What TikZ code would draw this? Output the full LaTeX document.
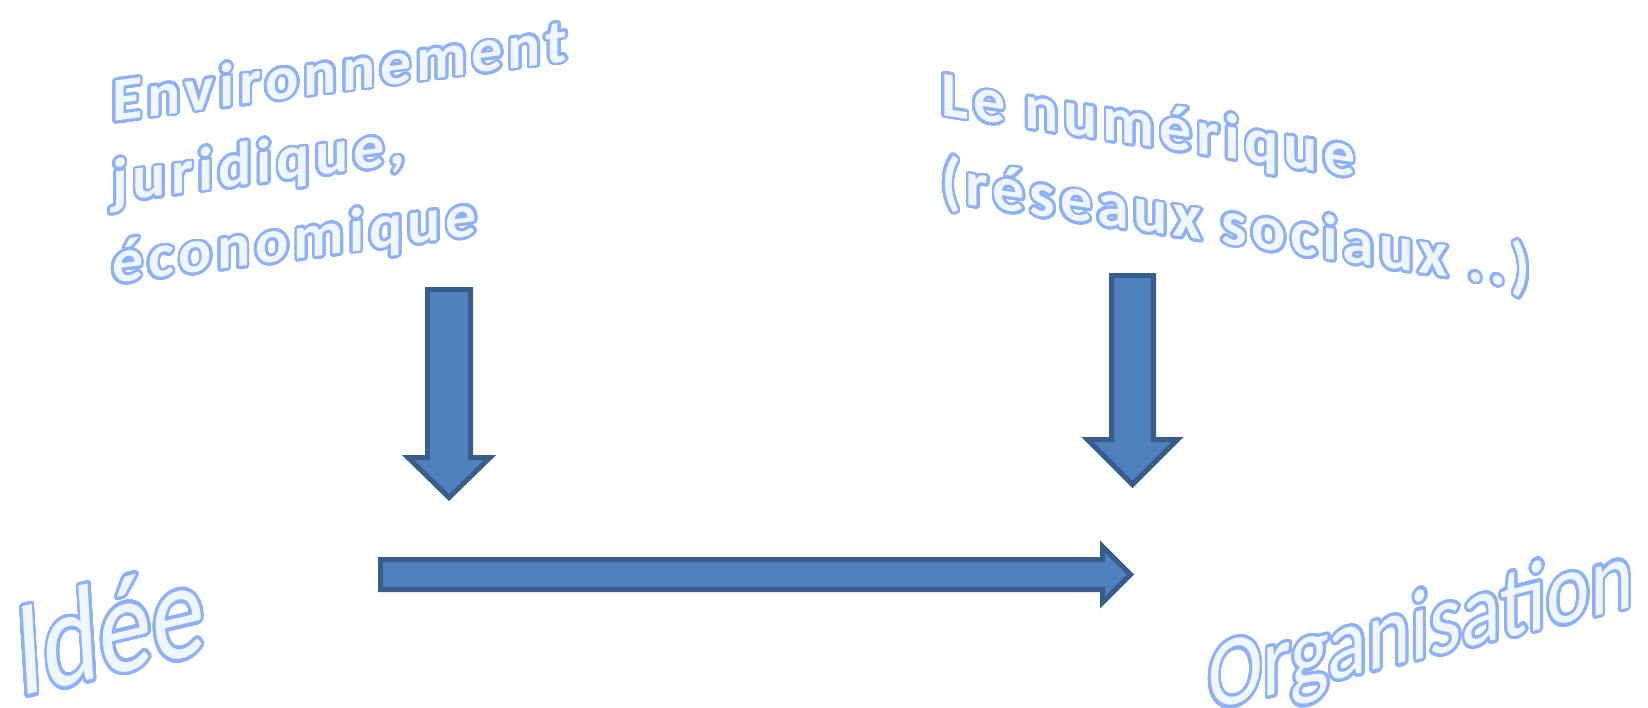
\documentclass[tikz,border=0pt]{standalone}
\usepackage{fontspec}
\setmainfont{Carlito}
\usepackage{graphicx}
\usepackage{contour}
\usetikzlibrary{positioning}
\definecolor{arrowfill}{RGB}{79,129,189}
\definecolor{arrowline}{RGB}{56,93,138}
\definecolor{wordfill}{RGB}{240,246,255}
\definecolor{wordline}{RGB}{141,176,246}
\contourlength{2.7pt}
\contournumber{36}
\newcommand{\wa}[1]{\contour{wordline}{#1}}
\tikzstyle{blockarrow}=[draw=arrowline, fill=arrowfill, line width=5pt, line join=miter]
\tikzstyle{wordart}=[text=wordfill, inner sep=0pt, transform shape, align=left]
\tikzstyle{topfont}=[font=\bfseries\fontsize{62}{81}\selectfont\addfontfeatures{LetterSpace=8}]

\begin{document}
\begin{tikzpicture}[x=1pt,y=-1pt]
  \useasboundingbox (0,0) rectangle (1648,707);
  % textes du haut
  \node[wordart, topfont, yslant=0.133, anchor=north west] (env) at (112,78)
    {\wa{Environnement}\\\wa{juridique,}\\\wa{économique}};
  \node[wordart, topfont, yslant=-0.15, anchor=north west,
    font=\bfseries\fontsize{64}{86}\selectfont\addfontfeatures{LetterSpace=7.5}] (num) at (941,70)
    {\wa{Le numérique}\\\wa{(réseaux sociaux ..)}};
  % textes du bas
  \node[wordart, yslant=0.24, xslant=-0.06, anchor=base west,
    font=\fontsize{106}{106}\selectfont] (idee) at (19,697)
    {\scalebox{1}[1.31]{\wa{Idée}}};
  \node[wordart, yslant=0.246, anchor=base west,
    font=\fontsize{82.5}{82.5}\selectfont] (orga) at (1208,711)
    {\scalebox{1}[1.22]{\wa{Organisation}}};
  % fleches
  \draw[blockarrow] (427.5,289.5) -- (470.5,289.5) -- (470.5,457.5) -- (490,457.5)
    -- (449,497.5) -- (408,457.5) -- (427.5,457.5) -- cycle;
  \draw[blockarrow] (1111.5,275.5) -- (1153.5,275.5) -- (1153.5,439.5) -- (1177.5,439.5)
    -- (1132.5,484.5) -- (1087.5,439.5) -- (1111.5,439.5) -- cycle;
  \draw[blockarrow] (380.5,559.5) -- (1102.5,559.5) -- (1102.5,546.5) -- (1130.5,574.5)
    -- (1102.5,602.5) -- (1102.5,589.5) -- (380.5,589.5) -- cycle;
\end{tikzpicture}
\end{document}
